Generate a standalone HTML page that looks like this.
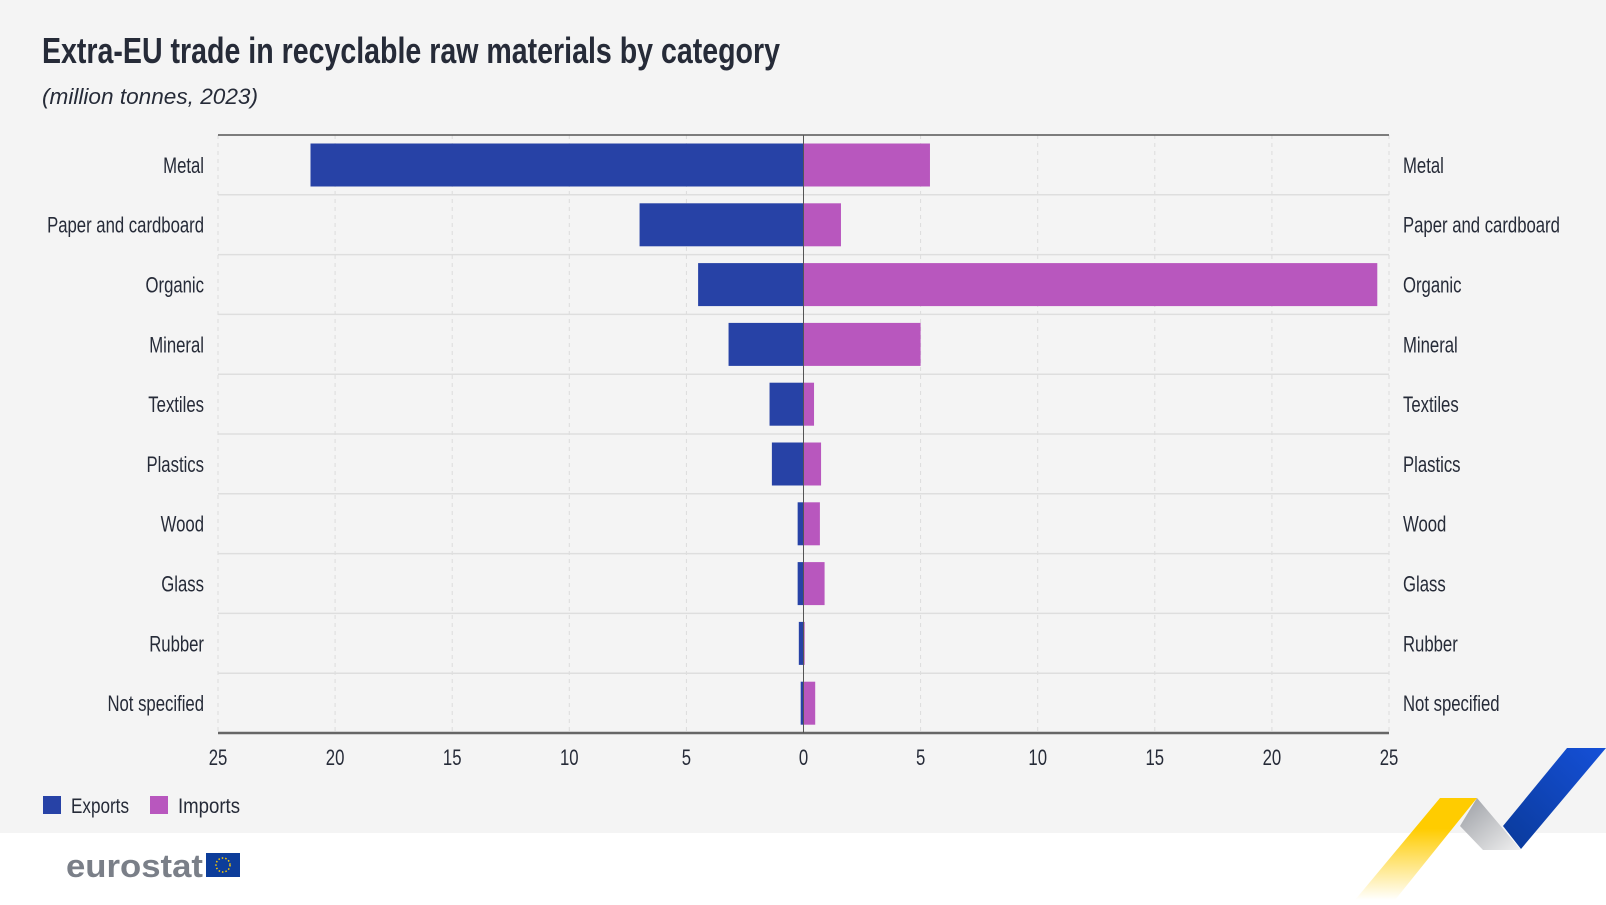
<!DOCTYPE html>
<html><head><meta charset="utf-8"><style>
html,body{margin:0;padding:0}
body{width:1606px;height:900px;overflow:hidden;background:#fff;font-family:"Liberation Sans Narrow","Liberation Sans",sans-serif;}
svg text{font-family:"Liberation Sans Narrow","Liberation Sans",sans-serif;}
</style></head><body>
<svg id="chart" width="1606" height="900">
<defs>
<linearGradient id="yg" x1="0" y1="0" x2="0" y2="1"><stop offset="0.3" stop-color="#ffcc00"/><stop offset="1" stop-color="#ffffff"/></linearGradient>
<linearGradient id="gg" x1="0" y1="0" x2="1" y2="1"><stop offset="0" stop-color="#9a9da3"/><stop offset="1" stop-color="#f0f0f0"/></linearGradient>
<linearGradient id="bg2" x1="0" y1="1" x2="1" y2="0"><stop offset="0" stop-color="#0a3a9a"/><stop offset="1" stop-color="#1550d8"/></linearGradient>
</defs>
<rect x="0" y="0" width="1606" height="833" fill="#f4f4f4"/>
<text x="42" y="63" font-size="36" font-weight="bold" fill="#262b38" textLength="738" lengthAdjust="spacingAndGlyphs">Extra-EU trade in recyclable raw materials by category</text>
<text x="42" y="104" font-size="22" font-style="italic" fill="#262b38" textLength="216" lengthAdjust="spacingAndGlyphs">(million tonnes, 2023)</text>
<g id="grid"></g>
<g id="bars"></g>
<g id="labels"></g>
<g>
<rect x="43" y="796" width="18" height="18" fill="#2742a6"/>
<text x="71" y="813" font-size="21" fill="#262b38" textLength="58" lengthAdjust="spacingAndGlyphs">Exports</text>
<rect x="150" y="796" width="18" height="18" fill="#b857be"/>
<text x="178" y="813" font-size="21" fill="#262b38" textLength="62" lengthAdjust="spacingAndGlyphs">Imports</text>
</g>
<g>
<text x="66" y="877" font-size="32" font-weight="bold" fill="#7a7f88" textLength="137" lengthAdjust="spacingAndGlyphs">eurostat</text>
<rect x="206" y="853" width="34" height="24" fill="#0d3d9a"/>
<circle cx="223" cy="865" r="7" fill="none" stroke="#ffcc00" stroke-width="1.5" stroke-dasharray="1.5 2"/>
</g>
<g>
<polygon points="1440,798 1477,798 1395,900 1355,900" fill="url(#yg)"/>
<polygon points="1477,798 1460,826 1483,850 1521,850" fill="url(#gg)"/>
<polygon points="1503,826 1521,849 1606,748 1567,748" fill="url(#bg2)"/>
</g>
</svg>
<script>
const categories=["Metal","Paper and cardboard","Organic","Mineral","Textiles","Plastics","Wood","Glass","Rubber","Not specified"];
const exportsVals=[21.05,7.0,4.5,3.2,1.45,1.35,0.25,0.25,0.2,0.12];
const importsVals=[5.4,1.6,24.5,5.0,0.45,0.75,0.7,0.9,0.05,0.5];
const tickVals=[-25,-20,-15,-10,-5,0,5,10,15,20,25];
const tickLabels=["25","20","15","10","5","0","5","10","15","20","25"];
const NS="http://www.w3.org/2000/svg";
const PL=218,PR=1389,PT=135,PB=733;
const SX=0.76;
const xs=v=>PL+(v+25)/50*(PR-PL);
const rowH=(PB-PT)/categories.length;
const ys=i=>PT+i*rowH;
function mk(tag,attrs,parent){const e=document.createElementNS(NS,tag);for(const k in attrs)e.setAttribute(k,attrs[k]);parent.appendChild(e);return e;}
const gridG=document.getElementById('grid'),barsG=document.getElementById('bars'),labelsG=document.getElementById('labels');
tickVals.forEach((t,i)=>{
  if(t!==0){const g=mk('line',{x1:xs(t),x2:xs(t),y1:PT,y2:PB,stroke:'#dcdcdc','stroke-dasharray':'4 4'},gridG);
  
  }
  const tx=mk('text',{x:0,y:0,transform:`translate(${xs(t)},${PB+32}) scale(${SX},1)`,'font-size':22,fill:'#262b38','text-anchor':'middle'},labelsG);
  tx.textContent=tickLabels[i];
  
  
});
categories.forEach((c,i)=>{
  if(i>0){const s=mk('line',{x1:PL,x2:PR,y1:ys(i),y2:ys(i),stroke:'#dedede','stroke-width':1.5},gridG);
  
  }
  const by=ys(i)+8.5,bh=43;
  const e=mk('rect',{x:xs(-exportsVals[i]),y:by,width:xs(0)-xs(-exportsVals[i]),height:bh,fill:'#2742a6'},barsG);
  
  
  const m=mk('rect',{x:xs(0),y:by,width:xs(importsVals[i])-xs(0),height:bh,fill:'#b857be'},barsG);
  
  
  const cy=ys(i)+rowH/2+8;
  const a=mk('text',{x:0,y:0,transform:`translate(204,${cy}) scale(${SX},1)`,'font-size':22,fill:'#262b38','text-anchor':'end'},labelsG);
  a.textContent=c;
  
  
  const b=mk('text',{x:0,y:0,transform:`translate(1403,${cy}) scale(${SX},1)`,'font-size':22,fill:'#262b38'},labelsG);
  b.textContent=c;
  
  
});
const topLine=mk('line',{x1:PL,x2:PR,y1:PT,y2:PT,stroke:'#555',"stroke-width":1.5},barsG);


const botLine=mk('line',{x1:PL,x2:PR,y1:PB,y2:PB,stroke:'#666',"stroke-width":2.5},barsG);


const zeroLine=mk('line',{x1:xs(0),x2:xs(0),y1:PT,y2:PB,stroke:'#555',"stroke-width":1},barsG);


</script>
</body></html>
